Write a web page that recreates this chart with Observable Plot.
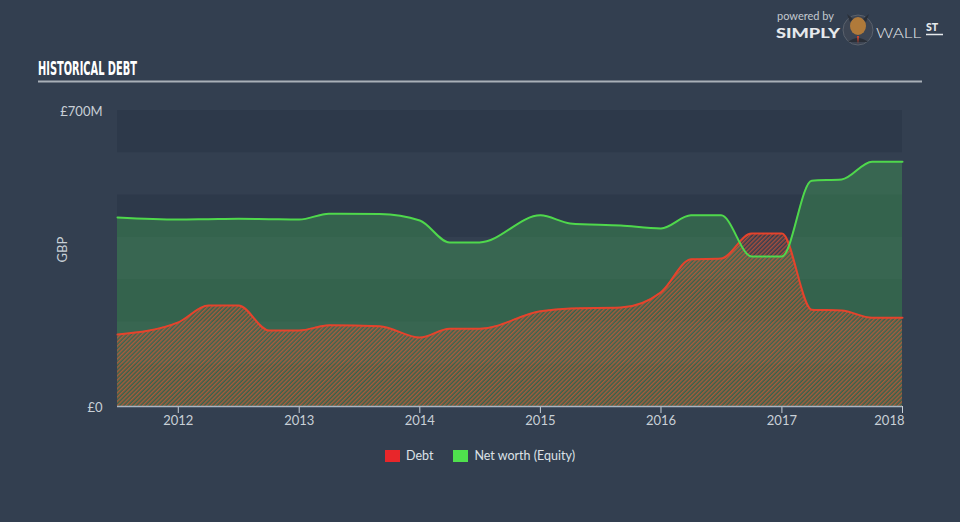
<!DOCTYPE html>
<html>
<head>
<meta charset="utf-8">
<script src="https://cdn.jsdelivr.net/npm/d3@7"></script>
<script src="https://cdn.jsdelivr.net/npm/@observablehq/plot@0.6"></script>
<style>
  html, body { margin: 0; padding: 0; }
  body { width: 960px; height: 522px; background: #333f50; position: relative; overflow: hidden; font-family: Lato, "Open Sans", sans-serif; }
  #chart { position: absolute; left: 0; top: 0; }
  #header { position: absolute; left: 0; top: 0; }
  .legend { position: absolute; top: 448px; left: 385px; display: flex; align-items: center; font-size: 12.5px; color: #dde2e7; font-family: Lato, "Open Sans", sans-serif; }
  .legend .sw { width: 15px; height: 12px; display: inline-block; margin-right: 6px; }
  .legend .item { display: flex; align-items: center; margin-right: 20px; }
</style>
</head>
<body>
<div id="chart"></div>
<svg id="header" width="960" height="100">
  <text x="38" y="75" font-family="'Liberation Sans Narrow','DejaVu Sans Condensed',sans-serif" font-weight="bold" font-size="19" fill="#ffffff" textLength="99" lengthAdjust="spacingAndGlyphs">HISTORICAL DEBT</text>
  <line x1="38" x2="922" y1="81.5" y2="81.5" stroke="#a9b0b8" stroke-width="2"/>
  <text x="777" y="19.5" font-family="Lato, sans-serif" font-size="11" fill="#c3c9cf">powered by</text>
  <text x="776" y="37.5" font-family="Lato, sans-serif" font-weight="900" font-size="14" fill="#e6e9ec" textLength="64" lengthAdjust="spacingAndGlyphs">SIMPLY</text>
  <circle cx="858" cy="30" r="15" fill="#3d4553" stroke="#5a616c" stroke-width="1"/>
  <ellipse cx="858" cy="26" rx="8" ry="9" fill="#b07a3a"/>
  <path d="M847,14 L850,22 L853,19 Z" fill="#2a2f38"/>
  <path d="M869,14 L866,22 L863,19 Z" fill="#2a2f38"/>
  <path d="M848,42 Q858,34 868,42 Z" fill="#2a2f38"/>
  <path d="M857,36 L859,36 L858,44 Z" fill="#d9462c"/>
  <text x="876" y="37.5" font-family="Lato, sans-serif" font-weight="300" font-size="14" fill="#e6e9ec" textLength="45" lengthAdjust="spacingAndGlyphs">WALL</text>
  <text x="926" y="31" font-family="Lato, sans-serif" font-weight="900" font-size="10.5" fill="#e6e9ec">ST</text>
  <line x1="926" x2="943" y1="34.5" y2="34.5" stroke="#e6e9ec" stroke-width="1.5"/>
</svg>
<div class="legend">
  <div class="item"><span class="sw" style="background:#e8262a"></span>Debt</div>
  <div class="item"><span class="sw" style="background:#4fe04d"></span>Net worth (Equity)</div>
</div>
<script>
// ---- data (values in £M) ----
const dates = ["2011-07-01","2012-01-01","2012-04-01","2012-07-01","2012-10-01","2013-01-01","2013-04-01","2013-09-01","2014-01-01","2014-04-01","2014-07-01","2015-01-01","2015-04-01","2015-09-01","2016-01-01","2016-04-01","2016-07-01","2016-10-01","2017-01-01","2017-04-01","2017-07-01","2017-10-01","2018-01-01"];
const netWorth = [447,442,443,444,443,442,456,455,440,388,388,452,433,428,421,452,452,355,355,534,537,579,579];
const debt = [170,199,239,239,180,180,192,190,163,184,184,225,232,234,270,348,350,409,409,229,227,210,210];
const years = ["2012","2013","2014","2015","2016","2017","2018"];
const yTicks = [0, 700];
const bandLo = [0, 200, 400, 600];
const bandHi = [100, 300, 500, 700];

const rows = dates.map((d, i) => ({date: new Date(d), nw: netWorth[i], debt: debt[i]}));
const bands = bandLo.map((lo, i) => ({lo, hi: bandHi[i]}));
const yearDates = years.map(y => new Date(y + "-01-01"));
const curve = "monotone-x";

const plot = Plot.plot({
  width: 960,
  height: 522,
  marginLeft: 117,
  marginRight: 58,
  marginTop: 110,
  marginBottom: 116,
  style: {background: "transparent", color: "#c9d0d7", fontFamily: "Lato, 'Open Sans', sans-serif", fontSize: "13px"},
  x: {type: "utc", domain: [new Date("2011-07-01"), new Date("2018-01-01")], ticks: yearDates, tickFormat: d3.utcFormat("%Y"), tickSize: 7, tickPadding: 2, label: null},
  y: {domain: [0, 700], ticks: yTicks, tickSize: 0, tickPadding: 15, tickFormat: d => d === 0 ? "£0" : "£" + d + "M", label: null},
  marks: [
    Plot.rect(bands, {y1: "lo", y2: "hi", fill: "#2d394a"}),
    Plot.areaY(rows, {x: "date", y: "nw", fill: "#3f9653", fillOpacity: 0.45, curve}),
    Plot.areaY(rows, {x: "date", y: "debt", fill: "url(#hatch)", curve}),
    Plot.lineY(rows, {x: "date", y: "debt", stroke: "#e5432c", strokeWidth: 2, curve}),
    Plot.lineY(rows, {x: "date", y: "nw", stroke: "#4fd84c", strokeWidth: 2, curve}),
    Plot.ruleY([0], {stroke: "#a9b5c1", strokeWidth: 1.5}),
    Plot.text(["GBP"], {frameAnchor: "left", dx: -55, dy: 4, rotate: -90, fill: "#c9d0d7", fontSize: 13})
  ]
});

const svg = d3.select(plot);
const defs = svg.insert("defs", ":first-child");
const pat = defs.append("pattern")
  .attr("id", "hatch")
  .attr("patternUnits", "userSpaceOnUse")
  .attr("width", 3).attr("height", 3)
  .attr("patternTransform", "rotate(45)");
pat.append("rect").attr("x", 0).attr("y", 0).attr("width", 1.5).attr("height", 3)
  .attr("fill", "#ee5530").attr("fill-opacity", 0.62);

svg.selectAll("text").filter(function() { return this.textContent === "2018"; })
  .attr("text-anchor", "end").attr("dx", 2);
svg.selectAll("text").filter(function() { return this.textContent === "£700M" || this.textContent === "£0"; })
  .attr("dy", "0.1em");

document.getElementById("chart").appendChild(plot);
</script>
</body>
</html>
